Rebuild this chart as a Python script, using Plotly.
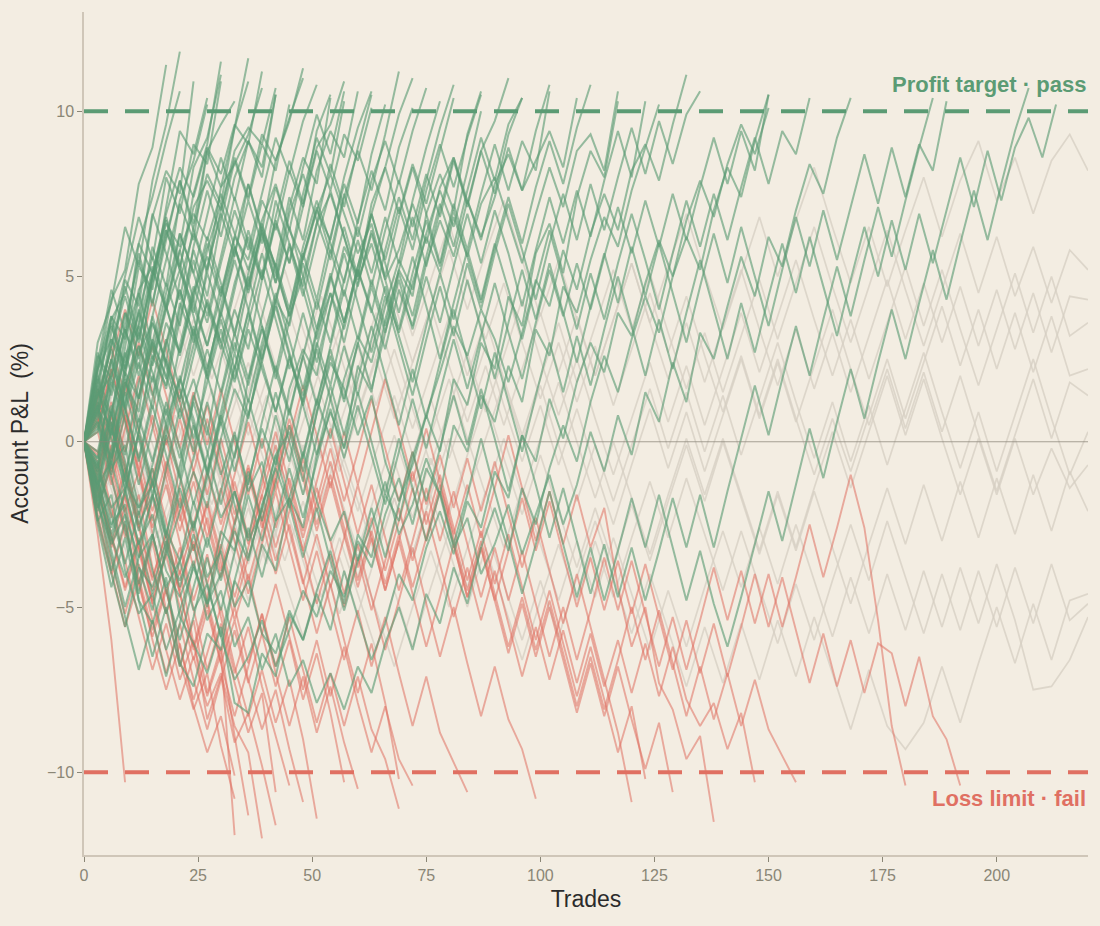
import plotly.graph_objects as go

STEP_PATH = 3      # trades between samples for pass / fail paths
STEP_TIMEOUT = 4   # trades between samples for timed-out paths
PROFIT_TARGET = 10
LOSS_LIMIT = -10
x_ticks = [0, 25, 50, 75, 100, 125, 150, 175, 200]
y_ticks = [-10, -5, 0, 5, 10]

pass_paths = [
    [0, 2.1, 4.3, 5.2, 7.8, 8.9, 11.4],
    [0, 1.5, 3.8, 3.1, 6.0, 7.4, 9.1, 10.6],
    [0, -0.8, 2.4, 4.9, 4.1, 6.8, 8.2, 7.5, 10.9],
    [0, 1.2, 0.4, 2.9, 5.3, 4.6, 7.1, 9.4, 8.7, 10.4],
    [0, 2.6, 1.9, 3.4, 2.2, 5.0, 6.6, 5.9, 8.3, 9.2, 11.1],
    [0, -1.4, 0.9, 2.7, 1.3, 3.8, 5.5, 7.2, 6.1, 8.8, 9.6, 10.3],
    [0, 0.7, 3.1, 2.0, 4.4, 6.9, 5.7, 4.3, 6.5, 8.1, 7.2, 9.5, 11.6],
    [0, -2.1, -0.6, 1.8, 0.9, 3.6, 2.4, 4.9, 6.3, 5.1, 7.7, 8.4, 9.3, 10.7],
    [0, 1.9, 0.5, -1.2, 1.4, 3.0, 4.8, 3.5, 5.9, 7.6, 6.2, 8.0, 9.1, 8.3, 10.5],
    [0, -1.0, -2.8, -1.5, 0.3, 2.6, 1.7, 4.0, 5.8, 4.4, 6.7, 8.5, 7.3, 9.0, 8.2, 10.2],
    [0, 2.4, 4.6, 3.3, 5.7, 4.2, 6.1, 7.9, 6.4, 5.2, 7.0, 8.6, 7.4, 9.3, 8.5, 9.8, 11.0],
    [0, 0.9, -0.7, 1.6, 3.3, 2.1, 0.8, 2.9, 4.7, 3.6, 5.4, 7.0, 5.8, 7.5, 9.2, 8.1, 9.7, 10.8],
    [0, -1.7, -3.9, -2.4, -4.6, -2.9, -0.8, 1.0, -0.3, 2.2, 3.9, 2.7, 4.8, 6.4, 5.0, 7.1, 8.6, 7.8, 10.4],
    [0, 1.3, 2.8, 1.1, 3.5, 5.2, 4.0, 6.3, 5.1, 3.8, 5.6, 7.4, 6.0, 4.9, 6.8, 8.5, 7.2, 8.9, 9.6, 10.9],
    [0, -0.5, 1.8, 0.6, -1.3, 0.4, 2.5, 1.2, 3.4, 2.0, 4.1, 5.9, 4.6, 6.5, 5.3, 7.4, 6.1, 8.2, 9.4, 8.6, 10.6],
    [0, 2.0, 0.8, 3.2, 4.5, 2.9, 1.6, 3.7, 5.5, 4.1, 2.8, 4.6, 6.4, 5.0, 7.3, 6.0, 4.7, 6.6, 8.4, 7.1, 8.9, 10.5],
    [0, -2.3, -4.0, -5.6, -3.8, -5.1, -3.2, -1.4, -2.7, -0.9, 0.8, -0.5, 1.9, 3.4, 2.1, 4.0, 5.7, 4.3, 6.2, 7.8, 6.6, 8.7, 10.2],
    [0, 1.1, 2.9, 4.4, 3.0, 5.1, 6.8, 5.4, 3.9, 5.8, 7.2, 5.9, 4.5, 6.3, 4.8, 6.9, 8.1, 6.7, 5.5, 7.4, 8.8, 7.6, 9.3, 11.2],
    [0, -0.9, 0.6, -1.5, -3.1, -1.7, 0.2, -1.1, 1.3, 2.8, 1.5, 3.3, 1.9, 3.8, 5.4, 4.0, 5.9, 7.3, 6.0, 4.8, 6.7, 8.2, 7.0, 8.9, 10.1],
    [0, 1.6, 0.2, 2.3, 3.9, 2.5, 4.2, 5.8, 4.3, 2.9, 4.7, 3.2, 5.1, 6.6, 5.2, 3.8, 5.6, 7.1, 5.7, 7.5, 6.2, 7.9, 9.1, 7.8, 9.4, 10.7],
    [0, -1.2, -2.6, -1.0, 0.7, -0.6, 1.2, -0.2, -1.9, -0.4, 1.4, 3.0, 1.7, 3.5, 2.1, 0.8, 2.6, 4.3, 3.0, 4.9, 6.5, 5.1, 6.8, 5.4, 7.3, 8.9, 10.3],
    [0, 0.8, 2.5, 1.0, -0.5, 1.3, 3.0, 4.6, 3.2, 1.9, 3.7, 2.2, 4.0, 5.7, 4.2, 6.0, 4.6, 3.1, 4.9, 6.5, 5.0, 6.9, 8.3, 6.9, 8.4, 7.2, 8.8, 10.4],
    [0, -1.5, 0.3, 1.9, 0.4, -1.2, -2.8, -1.3, 0.5, -0.9, 0.9, 2.7, 1.2, 3.0, 4.5, 3.1, 1.6, 3.4, 5.0, 3.6, 5.3, 6.9, 5.5, 7.1, 5.8, 7.6, 9.0, 7.7, 9.2, 10.5],
    [0, 2.2, 3.6, 2.0, 0.6, 2.4, 4.1, 2.7, 4.5, 6.2, 4.8, 3.3, 5.0, 3.5, 1.9, 3.7, 5.4, 4.0, 5.8, 4.4, 6.1, 4.7, 6.4, 7.9, 6.5, 8.1, 6.8, 8.5, 7.2, 8.8, 9.7, 11.0],
    [0, -0.6, -2.2, -3.7, -2.1, -3.9, -5.2, -3.6, -1.8, -3.2, -1.5, 0.2, -1.3, 0.6, 2.3, 0.9, 2.6, 1.1, 2.9, 4.6, 3.1, 4.9, 3.5, 5.2, 6.8, 5.3, 7.0, 8.6, 7.1, 8.8, 7.5, 9.3, 10.4],
    [0, 1.4, 2.9, 4.7, 3.2, 5.0, 6.7, 5.2, 3.8, 2.2, 3.9, 5.5, 4.0, 2.5, 4.3, 5.9, 4.4, 6.1, 7.6, 6.2, 4.7, 6.4, 5.0, 6.8, 8.3, 6.9, 5.4, 7.2, 5.8, 7.5, 9.0, 7.6, 9.1, 8.2, 10.6],
    [0, -1.8, -0.2, 1.5, 0.1, -1.6, 0.2, 1.8, 3.5, 2.0, 0.5, 2.2, 3.9, 2.4, 4.2, 2.7, 1.2, 2.9, 4.5, 3.0, 4.8, 6.3, 4.9, 3.4, 5.1, 6.7, 5.3, 7.0, 5.6, 4.2, 5.9, 7.4, 6.0, 7.7, 9.1, 7.8, 9.5, 10.8],
    [0, 0.5, -1.1, -2.7, -4.3, -2.8, -4.5, -6.0, -4.4, -2.9, -4.2, -2.5, -0.9, -2.4, -0.7, 1.0, -0.5, 1.2, 2.8, 1.3, 3.0, 1.6, 3.3, 4.9, 3.4, 5.0, 3.6, 5.3, 6.9, 5.4, 7.0, 5.7, 4.1, 5.8, 7.4, 6.0, 7.6, 6.2, 7.9, 9.4, 8.0, 10.3],
    [0, 1.7, 0.1, -1.4, 0.3, 2.0, 0.5, -1.0, -2.6, -1.1, 0.6, -0.9, 0.8, 2.4, 0.9, 2.6, 1.1, -0.4, 1.3, 2.9, 1.4, 3.1, 4.7, 3.2, 1.8, 3.5, 5.1, 3.7, 5.4, 4.0, 5.7, 7.2, 5.8, 4.3, 6.0, 7.5, 6.1, 7.8, 6.4, 8.0, 9.5, 8.1, 9.7, 8.4, 9.9, 10.6],
    [0, -1.3, 0.4, -1.1, -2.7, -1.2, -2.9, -4.4, -2.8, -4.3, -5.9, -4.2, -2.6, -4.1, -2.4, -0.8, -2.3, -0.6, 1.0, -0.5, 1.1, -0.4, -1.9, -0.3, 1.3, -0.2, 1.5, 3.1, 1.6, 3.2, 4.8, 3.3, 1.9, 3.6, 5.2, 3.8, 5.4, 4.0, 5.6, 7.1, 5.7, 7.3, 5.9, 7.5, 6.1, 7.7, 9.2, 7.8, 9.4, 8.2, 10.5],
    [0, 2.3, 3.8, 2.2, 3.9, 5.6, 4.1, 2.6, 4.3, 6.0, 4.5, 6.2, 7.8, 6.3, 4.8, 6.5, 5.0, 3.4, 5.1, 3.6, 5.3, 6.9, 5.4, 3.9, 5.6, 4.1, 2.5, 4.2, 5.8, 4.3, 6.0, 4.6, 3.1, 4.8, 6.4, 4.9, 3.4, 5.1, 3.7, 5.4, 6.9, 5.5, 4.0, 5.7, 7.3, 5.9, 7.5, 6.1, 7.7, 9.2, 7.8, 9.4, 8.7, 10.4],
    [0, -1.4, -3.0, -1.5, 0.2, -1.3, 0.4, 2.0, 0.5, -1.0, 0.7, 2.3, 0.8, 2.5, 4.1, 2.6, 1.1, 2.8, 1.3, -0.2, 1.5, 0.0, -1.6, 0.1, -1.4, -3.0, -1.5, -3.1, -1.6, 0.1, -1.5, -3.0, -4.6, -3.1, -1.5, -3.1, -4.7, -3.2, -4.8, -3.3, -1.7, -3.2, -1.6, -3.2, -4.8, -3.3, -4.9, -6.2, -4.7, -3.1, -1.5, -3.0, -1.3, 0.4, -1.1, 0.6, 2.2, 0.7, 2.4, 4.0, 2.5, 4.2, 5.8, 4.3, 6.0, 7.6, 6.1, 7.8, 9.4, 10.7],
    [0, 1.1, -0.5, 1.2, 2.9, 1.4, 3.1, 1.6, 0.1, 1.8, 3.4, 1.9, 3.6, 5.2, 3.7, 2.2, 3.9, 2.4, 4.1, 5.7, 4.2, 2.7, 4.4, 2.9, 1.4, 3.1, 4.7, 3.2, 4.9, 3.4, 1.9, 3.6, 5.2, 3.7, 5.4, 3.9, 2.4, 4.1, 5.7, 4.2, 5.9, 4.4, 6.0, 4.5, 3.0, 4.7, 6.3, 4.8, 6.5, 5.0, 3.5, 5.2, 6.8, 5.3, 7.0, 5.5, 7.1, 8.7, 7.2, 8.9, 7.4, 9.0, 8.2, 10.3],
    [0, -0.8, 0.9, -0.6, -2.2, -0.7, 1.0, -0.5, 1.2, -0.3, -1.9, -0.4, 1.3, -0.2, 1.5, 0.0, -1.6, 0.1, 1.7, 0.2, 1.9, 3.5, 2.0, 0.5, 2.2, 0.7, 2.4, 4.0, 2.5, 1.0, 2.7, 1.2, -0.3, 1.4, 3.0, 1.5, 3.2, 1.7, 3.4, 5.0, 3.5, 2.0, 3.7, 2.2, 3.9, 5.5, 4.0, 2.5, 4.2, 2.7, 4.4, 6.0, 4.5, 6.2, 4.7, 3.2, 4.9, 6.5, 5.0, 6.7, 5.2, 6.9, 5.4, 7.0, 8.6, 7.1, 8.8, 7.3, 8.9, 9.8, 8.6, 10.2],
    [0, 3.0, 4.2, 6.5, 5.3, 7.9, 9.6, 11.8],
    [0, -2.0, -0.4, 2.1, 3.6, 5.9, 4.7, 7.3, 8.5, 10.2],
    [0, 1.0, 3.3, 5.0, 6.8, 5.5, 8.0, 6.9, 9.0, 8.4, 10.9],
    [0, -1.2, -3.3, -5.0, -3.5, -1.6, -2.9, -0.8, 1.4, 0.2, 2.5, 4.0, 2.8, 4.9, 6.6, 5.4, 7.5, 9.2, 8.1, 10.3],
    [0, 0.4, 2.0, 3.9, 2.5, 4.8, 6.2, 7.9, 6.6, 8.8, 7.7, 9.5, 10.9],
    [0, -0.7, 1.1, -0.4, 1.8, 3.1, 1.9, 4.2, 3.0, 5.3, 6.9, 5.6, 7.8, 6.4, 8.5, 9.7, 11.3],
    [0, 1.8, 3.5, 2.2, 4.0, 2.7, 4.5, 6.3, 5.1, 6.9, 8.6, 7.3, 9.1, 8.0, 10.5],
    [0, -1.6, -3.5, -5.3, -6.9, -5.4, -7.1, -5.5, -3.7, -5.0, -3.2, -1.5, -2.9, -1.0, 0.8, -0.6, 1.3, 3.0, 1.7, 3.6, 5.2, 3.9, 5.8, 7.4, 6.1, 7.9, 9.5, 10.8],
    [0, 0.6, -1.0, 0.9, 2.4, 1.0, 2.9, 4.6, 3.2, 5.1, 3.8, 5.7, 7.3, 6.0, 7.7, 6.4, 8.3, 9.9, 8.7, 10.6],
    [0, 2.7, 1.4, 3.6, 5.5, 4.1, 6.4, 5.2, 7.5, 9.0, 11.5],
    [0, -0.3, 1.6, 3.4, 2.0, 3.8, 2.3, 0.9, 2.6, 4.3, 3.0, 4.8, 6.2, 4.9, 6.7, 5.4, 7.1, 8.8, 7.6, 9.3, 8.5, 10.1],
    [0, -2.5, -4.4, -2.9, -4.8, -6.5, -5.0, -6.8, -5.3, -3.5, -5.1, -3.3, -1.6, -3.0, -1.2, 0.5, -0.9, 0.9, 2.6, 1.2, 3.0, 4.7, 3.3, 5.1, 3.8, 5.6, 7.2, 5.9, 7.6, 9.2, 7.9, 9.6, 10.4],
    [0, 0.9, 2.5, 1.0, -0.6, 1.1, -0.4, -2.0, -0.5, 1.2, -0.3, -1.9, -3.5, -2.0, -0.4, -1.9, -3.5, -2.0, -3.6, -5.1, -3.6, -2.0, -3.5, -1.9, -0.3, -1.8, -0.2, 1.4, -0.1, 1.6, 0.1, -1.5, 0.2, -1.3, -2.9, -1.4, -3.0, -4.6, -3.1, -4.7, -3.2, -4.8, -3.3, -1.7, -3.2, -1.6, -3.2, -1.5, 0.1, 1.7, 0.2, 1.9, 3.5, 2.0, 3.7, 5.3, 3.8, 5.5, 7.1, 5.6, 7.3, 8.9, 10.4],
    [0, -1.9, -3.1, -2.2, -4.8, -5.5, -4.1, -6.7, -7.4, -5.8, -6.3, -4.2, -5.0, -3.1, -3.9, -1.7, -2.6, -0.4, 0.9, -0.2, 2.3, 1.5, 3.7, 5.2, 4.4, 6.9, 8.1, 7.0, 9.3, 10.6],
    [0, -0.7, -2.5, -1.9, -3.8, -4.4, -3.0, -5.3, -6.1, -7.0, -5.6, -7.9, -8.2, -6.4, -7.1, -5.2, -6.0, -4.5, -3.3, -4.9, -2.8, -3.5, -1.6, -2.4, -0.5, 0.8, -0.3, 1.9, 1.1, 3.0, 2.2, 4.4, 3.5, 5.7, 6.6, 5.1, 7.4, 8.8, 8.0, 10.3],
    [0, -2.4, -1.6, -3.9, -5.2, -4.6, -6.3, -5.1, -3.8, -4.9, -2.7, -3.3, -1.2, 0.4, -0.7, 1.6, 2.8, 2.0, 4.1, 5.9, 5.0, 7.2, 8.3, 9.9, 11.0],
    [0, 1.1, -0.8, -0.1, -2.0, -1.3, 0.6, 1.9, 0.7, -0.9, -2.3, -1.5, -3.0, -2.1, -0.4, 0.3, -1.2, 0.9, 2.4, 1.6, 0.2, 1.4, -0.6, -1.8, -0.7, 0.8, 2.1, 3.5, 2.6, 4.0, 3.1, 1.8, 3.3, 4.9, 4.1, 5.8, 4.6, 6.3, 7.5, 6.4, 8.2, 9.0, 7.9, 9.6, 11.1],
    [0, -0.5, 0.9, -1.2, -2.0, -0.8, -2.7, -3.6, -2.4, -4.1, -3.3, -5.0, -4.2, -5.8, -6.4, -5.1, -6.0, -4.6, -5.7, -3.9, -5.3, -6.6, -5.5, -4.0, -4.8, -3.2, -2.1, -3.4, -1.8, -2.6, -0.9, -1.7, 0.2, -0.6, 1.3, 0.1, 1.8, 3.0, 2.1, 3.9, 3.2, 4.8, 6.1, 5.0, 6.7, 7.9, 6.8, 8.4, 9.6, 8.7, 10.1],
    [0, 2.2, 3.1, 2.4, 4.6, 5.3, 4.0, 5.8, 6.9, 6.1, 7.5, 6.3, 5.2, 6.7, 7.8, 6.4, 5.5, 7.0, 8.1, 6.9, 5.7, 6.6, 4.9, 5.8, 7.2, 6.0, 7.7, 8.6, 7.3, 6.2, 7.4, 8.9, 7.6, 8.5, 9.4, 8.3, 10.4],
    [0, 1.4, 2.0, 3.9, 3.1, 5.0, 6.4, 5.3, 7.1, 7.9, 7.0, 8.8, 9.5, 9.0, 10.7],
    [0, -1.3, -0.6, -2.2, -3.5, -2.8, -4.4, -3.6, -5.1, -4.3, -5.9, -7.2, -6.5, -5.4, -6.8, -5.7, -4.5, -5.3, -3.9, -4.7, -3.0, -3.8, -2.2, -1.1, -2.5, -0.8, -1.6, 0.5, -0.3, 1.4, 0.6, 2.3, 1.2, 3.4, 2.6, 4.7, 3.9, 5.5, 6.8, 5.9, 7.6, 8.9, 10.2],
    [0, 0.6, -0.5, 1.7, 2.9, 1.8, 3.6, 2.7, 4.5, 5.6, 4.4, 6.2, 5.5, 7.3, 6.4, 8.2, 7.1, 9.4, 10.5],
    [0, -0.9, -2.0, -1.4, -3.1, -2.2, -3.9, -4.7, -3.6, -5.4, -4.5, -6.2, -5.3, -6.9, -5.8, -7.4, -6.6, -7.9, -7.0, -8.1, -6.8, -7.6, -6.1, -5.0, -6.3, -4.6, -5.5, -3.8, -4.9, -3.2, -2.0, -3.3, -1.4, -2.5, -0.8, 0.5, -0.6, 1.2, 2.6, 1.5, 3.1, 4.4, 3.3, 5.0, 6.2, 5.2, 7.0, 8.3, 7.4, 9.1, 10.5],
    [0, 1.8, 3.7, 4.5, 6.0, 5.1, 6.9, 8.3, 7.4, 8.9, 8.1, 9.6, 9.0, 11.2],
    [0, 1.0, 0.2, 2.1, 1.3, 3.0, 2.0, 0.7, 1.9, 0.4, -1.0, 0.3, -1.5, -0.6, -2.4, -1.7, -0.3, -1.8, -3.0, -2.1, -3.6, -2.5, -1.2, -2.8, -1.9, -0.5, -1.6, -3.2, -2.3, -4.0, -3.1, -1.9, -3.4, -2.2, -1.0, -2.5, -1.3, 0.3, -0.9, 0.8, -0.4, 1.5, 0.6, 2.4, 1.2, 3.3, 2.5, 4.1, 5.6, 4.4, 6.2, 5.3, 7.0, 8.4, 7.5, 9.2, 10.4],
    [0, -1.5, -2.9, -4.1, -3.0, -4.6, -3.4, -2.1, -0.9, -2.0, 0.1, 1.6, 0.7, 2.8, 4.3, 3.5, 5.6, 7.0, 6.1, 8.0, 9.5, 10.6],
    [0, 0.3, 1.9, 1.0, 2.7, 3.6, 2.4, 1.3, 2.9, 4.2, 3.0, 1.8, 3.4, 2.2, 0.9, 2.5, 1.4, 3.3, 4.5, 3.4, 5.2, 4.0, 2.8, 4.6, 3.5, 5.4, 6.7, 5.6, 7.3, 6.1, 7.8, 8.7, 7.6, 9.4, 10.8],
    [0, -1.1, 0.4, -0.8, -2.5, -1.6, -3.3, -4.2, -3.1, -4.9, -4.0, -2.7, -3.6, -1.9, -0.8, -2.0, -0.4, 1.3, 0.1, 1.9, 3.2, 2.4, 4.1, 5.5, 4.6, 6.3, 7.6, 6.5, 8.2, 10.0],
    [0, 1.5, 0.8, 2.6, 3.5, 2.3, 4.0, 5.2, 4.1, 2.9, 4.4, 5.9, 4.7, 6.4, 5.3, 3.8, 5.0, 6.6, 7.5, 6.2, 4.9, 6.0, 4.5, 3.3, 4.8, 6.2, 5.1, 6.8, 5.6, 7.2, 8.0, 6.7, 5.4, 6.9, 8.3, 7.1, 8.8, 9.3, 8.2, 10.6],
]

fail_paths = [
    [0, -2.8, -6.0, -10.3],
    [0, -1.4, -3.2, -2.0, -4.1, -5.7, -4.4, -6.6, -8.1, -7.0, -9.2, -10.8],
    [0, 0.8, -1.0, -2.9, -1.6, -3.8, -5.2, -3.9, -6.1, -7.7, -6.4, -11.9],
    [0, -2.0, -0.7, -2.6, -4.3, -3.0, -5.1, -6.8, -5.4, -7.6, -6.2, -8.9, -11.3],
    [0, 1.2, -0.3, -2.1, -0.9, -2.8, -4.6, -3.2, -5.0, -6.9, -5.5, -7.3, -8.8, -7.6, -10.6],
    [0, -1.1, -2.9, -4.5, -3.1, -4.9, -6.3, -7.8, -6.5, -8.0, -7.0, -8.6, -9.4, -12.0],
    [0, 0.5, 2.2, 0.7, -1.0, -2.6, -1.3, -3.1, -4.8, -3.4, -5.3, -7.0, -5.6, -7.4, -8.9, -10.4],
    [0, -0.9, 0.8, -0.8, -2.5, -4.1, -2.8, -4.6, -6.3, -4.9, -6.7, -5.4, -7.2, -8.7, -7.5, -9.3, -10.9],
    [0, -2.4, -4.0, -2.5, -4.3, -5.9, -4.5, -6.2, -7.8, -6.4, -5.0, -6.8, -8.3, -6.9, -8.5, -7.2, -9.0, -11.4],
    [0, 1.6, 0.0, 1.8, 0.3, -1.4, 0.1, -1.6, -3.3, -1.9, -3.7, -5.4, -4.0, -5.8, -7.4, -6.0, -7.8, -6.4, -8.2, -10.3],
    [0, -0.6, -2.3, -0.8, -2.6, -4.2, -2.7, -4.5, -3.0, -4.8, -6.4, -5.0, -6.7, -5.2, -7.0, -8.6, -7.1, -8.8, -7.4, -9.1, -10.5],
    [0, 0.9, 2.5, 4.0, 2.6, 4.3, 2.8, 1.2, -0.4, 1.1, -0.6, -2.2, -0.7, -2.4, -4.0, -2.5, -4.2, -5.8, -4.3, -6.0, -7.6, -6.1, -7.9, -10.2],
    [0, -1.9, -3.6, -5.2, -3.7, -5.4, -7.0, -5.5, -7.2, -8.7, -7.2, -5.7, -7.3, -5.8, -4.3, -5.9, -7.5, -6.0, -7.7, -6.2, -7.9, -9.4, -8.0, -9.6, -10.4],
    [0, 0.3, -1.3, 0.4, 2.0, 0.5, -1.1, -2.7, -1.2, -2.9, -1.4, -3.0, -4.6, -3.1, -1.5, -3.2, -4.8, -3.3, -5.0, -6.6, -5.1, -6.8, -5.3, -7.0, -8.6, -7.1, -8.8, -9.7, -10.6],
    [0, -1.0, 0.6, -1.0, -2.6, -1.1, 0.5, -1.1, -2.7, -4.3, -2.8, -1.2, -2.9, -1.3, 0.3, -1.3, -2.9, -1.4, -3.0, -4.6, -3.1, -4.7, -6.3, -4.8, -3.2, -4.9, -6.5, -5.0, -6.7, -8.3, -6.8, -8.4, -9.3, -10.8],
    [0, 1.3, 2.9, 1.4, 3.0, 1.5, -0.1, 1.6, 0.0, -1.6, 0.1, -1.5, -3.1, -1.6, -0.1, -1.7, -3.3, -1.8, -0.2, -1.8, -0.3, 1.3, -0.2, -1.8, -0.3, -1.9, -0.4, -2.0, -0.5, -2.1, -0.6, -2.2, -3.8, -2.3, -3.9, -5.5, -4.0, -5.6, -7.2, -8.8, -10.9],
    [0, -1.5, -3.1, -1.6, -3.2, -4.8, -3.3, -1.7, -3.3, -1.8, -3.4, -5.0, -3.5, -2.0, -3.6, -2.1, -0.5, -2.1, -0.6, -2.2, -3.8, -2.3, -3.9, -2.4, -0.9, -2.5, -1.0, -2.6, -4.2, -2.7, -4.3, -2.8, -4.4, -6.0, -4.5, -6.1, -7.7, -6.2, -7.8, -9.4, -8.0, -10.2],
    [0, 0.7, -0.9, 0.8, -0.8, -2.4, -0.9, 0.7, -0.9, -2.5, -4.1, -2.6, -4.2, -2.7, -1.1, -2.7, -4.3, -2.8, -4.4, -2.9, -1.3, -2.9, -4.5, -3.0, -4.6, -6.2, -4.7, -3.1, -4.7, -3.2, -4.8, -6.4, -4.9, -6.5, -5.0, -6.6, -8.2, -6.7, -8.3, -6.8, -8.4, -9.9, -8.5, -10.6],
    [0, -0.4, 1.2, -0.3, 1.3, 2.9, 1.4, -0.2, 1.5, -0.1, 1.6, 0.0, -1.6, 0.1, -1.5, 0.1, 1.7, 0.2, -1.4, 0.3, -1.3, 0.3, 1.9, 0.4, -1.2, 0.4, -1.2, -2.8, -1.3, -2.9, -1.4, 0.2, -1.4, -3.0, -1.5, -3.1, -1.6, -3.2, -2.0, -4.4, -6.2, -5.0, -7.3, -8.1, -9.6, -8.9, -11.5],
    [0, -1.2, -2.8, -4.4, -2.9, -4.5, -3.0, -4.6, -6.2, -4.7, -3.1, -4.7, -3.2, -1.6, -3.2, -1.7, -3.3, -4.9, -3.4, -5.0, -3.5, -5.1, -3.6, -2.0, -3.6, -2.1, -3.7, -5.3, -3.8, -5.4, -3.9, -5.5, -7.1, -5.6, -7.2, -5.7, -7.3, -5.8, -7.4, -6.0, -7.6, -6.1, -7.7, -6.2, -7.8, -8.6, -7.9, -9.3, -8.2, -10.3],
    [0, 1.0, -0.6, 1.1, -0.5, -2.1, -0.6, -2.2, -3.8, -2.3, -3.9, -2.4, -0.8, -2.4, -0.9, 0.7, -0.9, -2.5, -1.0, -2.6, -4.2, -2.7, -4.3, -2.8, -4.4, -2.9, -1.3, -2.9, -4.5, -3.0, -4.6, -6.2, -4.7, -6.3, -4.8, -6.4, -8.0, -6.5, -8.1, -6.6, -5.0, -6.6, -5.1, -6.7, -8.3, -6.8, -8.4, -7.0, -8.6, -7.2, -8.7, -9.5, -10.3],
    [0, -0.8, 0.8, -0.7, -2.3, -0.8, -2.4, -4.0, -2.5, -0.9, -2.5, -1.0, 0.6, -1.0, -2.6, -1.1, -2.7, -1.2, 0.4, -1.2, -2.8, -1.3, -2.9, -4.5, -3.0, -1.4, -3.0, -1.5, -3.1, -4.7, -3.2, -4.8, -3.3, -4.9, -6.5, -5.0, -6.6, -5.1, -3.5, -5.1, -3.6, -5.2, -6.8, -5.3, -6.9, -5.4, -3.8, -5.4, -3.9, -5.5, -4.0, -5.6, -4.1, -2.5, -4.1, -2.6, -1.0, -2.6, -5.4, -8.6, -10.4],
    [0, 0.6, 2.2, 0.7, -0.9, 0.8, -0.8, -2.4, -0.9, 0.7, -0.9, -2.5, -1.0, -2.6, -1.1, 0.5, -1.1, -2.7, -1.2, -2.8, -4.4, -2.9, -4.5, -3.0, -1.4, -3.0, -1.5, -3.1, -4.7, -3.2, -4.8, -3.3, -1.7, -3.3, -1.8, -3.4, -5.0, -3.5, -5.1, -3.6, -5.2, -3.7, -5.3, -6.9, -5.4, -7.0, -5.5, -7.1, -5.6, -4.0, -5.6, -4.1, -5.7, -7.3, -5.8, -7.4, -6.0, -7.6, -6.1, -6.4, -8.0, -6.5, -8.3, -9.0, -10.4],
    [0, -1.7, -0.1, -1.7, -3.3, -4.9, -3.4, -5.0, -6.6, -5.1, -6.7, -8.3, -6.8, -5.2, -6.8, -5.3, -6.9, -8.5, -7.0, -8.6, -7.1, -8.7, -9.6, -11.1],
    [0, -2.2, -3.9, -5.6, -4.2, -6.0, -7.5, -6.1, -8.0, -9.4, -8.3, -10.1],
    [0, -0.3, -2.0, -3.6, -5.3, -6.9, -5.5, -7.2, -6.0, -8.4, -7.1, -9.1, -8.2, -9.8, -11.6],
]

timeout_paths = [
    [0, 1.5, -0.4, 1.9, 3.2, 1.4, 3.0, 4.6, 2.8, 4.5, 6.1, 4.3, 2.6, 4.4, 2.7, 0.9, 2.6, 4.2, 2.4, 4.1, 5.8, 4.0, 5.7, 7.3, 5.5, 3.8, 5.5, 3.7, 2.0, 3.7, 5.4, 3.6, 5.3, 6.9, 5.1, 3.4, 5.1, 6.8, 5.0, 6.7, 8.3, 6.5, 4.8, 6.5, 4.7, 6.4, 8.0, 6.2, 7.9, 9.1, 7.3, 8.6, 6.9, 8.5, 9.3, 8.2],
    [0, -1.3, 0.5, -1.2, -2.9, -1.1, 0.6, -1.1, 0.7, 2.4, 0.6, -1.1, 0.6, 2.3, 0.5, 2.2, 3.9, 2.1, 0.4, 2.1, 3.8, 2.0, 3.7, 1.9, 0.2, 1.9, 3.6, 1.8, 3.5, 5.2, 3.4, 5.1, 3.3, 1.6, 3.3, 1.5, 3.2, 4.9, 3.1, 4.8, 6.5, 4.7, 3.0, 4.7, 6.4, 4.6, 2.9, 4.6, 6.3, 4.5, 6.2, 4.4, 5.9, 4.2, 5.8, 5.2],
    [0, 0.9, 2.6, 0.8, -0.9, 0.8, -0.9, -2.6, -0.8, 0.9, -0.8, 0.9, 2.6, 0.8, -0.9, 0.8, 2.5, 0.7, 2.4, 4.1, 2.3, 0.6, 2.3, 0.5, 2.2, 3.9, 2.1, 3.8, 2.0, 3.7, 5.4, 3.6, 1.9, 3.6, 1.8, 3.5, 5.2, 3.4, 1.7, 3.4, 1.6, 3.3, 1.5, 3.2, 4.9, 3.1, 4.8, 3.0, 4.7, 2.9, 4.6, 2.8, 4.5, 2.7, 4.4, 4.3],
    [0, -0.6, -2.3, -0.5, -2.2, -3.9, -2.1, -0.4, -2.1, -0.3, 1.4, -0.4, 1.3, -0.5, 1.2, 2.9, 1.1, 2.8, 1.0, -0.7, 1.0, 2.7, 0.9, 2.6, 4.3, 2.5, 0.8, 2.5, 0.7, -1.0, 0.7, 2.4, 0.6, 2.3, 0.5, 2.2, 3.9, 2.1, 3.8, 5.5, 3.7, 2.0, 3.7, 1.9, 3.6, 5.3, 3.5, 5.2, 3.4, 1.7, 3.4, 5.1, 3.3, 5.0, 3.2, 3.6],
    [0, 1.7, 0.0, 1.7, 3.4, 1.6, -0.1, 1.6, -0.2, 1.5, 3.2, 1.4, -0.3, 1.4, -0.4, -2.1, -0.3, 1.4, -0.4, 1.3, -0.5, 1.2, 2.9, 1.1, -0.6, 1.1, -0.7, 1.0, -0.8, -2.5, -0.7, 1.0, -0.8, 0.9, -0.9, 0.8, 2.5, 0.7, 2.4, 0.6, 2.3, 4.0, 2.2, 0.5, 2.2, 0.4, 2.1, 0.3, 2.0, 0.2, -1.5, 0.2, 1.9, 0.1, 1.8, 1.4],
    [0, -1.8, -0.1, -1.8, -0.1, 1.6, -0.2, -1.9, -0.2, -1.9, -3.6, -1.8, -0.1, -1.8, -0.1, -1.8, -3.5, -1.7, -3.4, -1.6, 0.1, -1.6, 0.1, 1.8, 0.0, 1.7, -0.1, -1.8, -0.1, -1.8, -0.1, 1.6, -0.2, 1.5, -0.3, 1.4, -0.4, 1.3, 3.0, 1.2, -0.5, 1.2, -0.6, 1.1, -0.7, 1.0, 2.7, 0.9, -0.8, 0.9, -0.9, 0.8, 2.5, 0.7, -1.0, 0.3],
    [0, 0.5, 2.2, 0.4, 2.1, 3.8, 2.0, 3.7, 1.9, 0.2, 1.9, 0.1, -1.6, 0.1, -1.6, -3.3, -1.5, 0.2, -1.5, 0.2, 1.9, 0.1, -1.6, 0.1, -1.6, 0.1, 1.8, 0.0, -1.7, 0.0, -1.7, -3.4, -1.6, 0.1, -1.6, 0.1, -1.6, -3.3, -1.5, -3.2, -1.4, 0.3, -1.4, 0.3, 2.0, 0.2, 1.9, 0.1, -1.6, 0.1, -1.6, 0.1, -1.6, -0.2, -1.4, -0.7],
    [0, -1.1, -2.8, -4.5, -2.7, -4.4, -2.6, -0.9, -2.6, -4.3, -2.5, -4.2, -5.9, -4.1, -2.4, -4.1, -2.3, -0.6, -2.3, -0.5, -2.2, -0.4, 1.3, -0.5, -2.2, -0.4, -2.1, -3.8, -2.0, -3.7, -1.9, -3.6, -1.8, -0.1, -1.8, 0.0, -1.7, -3.4, -1.6, -3.3, -1.5, -3.2, -4.9, -3.1, -1.4, -3.1, -1.3, -3.0, -1.2, -2.9, -1.1, -2.8, -1.0, -2.7, -0.9, -2.1],
    [0, 1.2, -0.5, 1.2, -0.5, -2.2, -0.4, -2.1, -3.8, -2.0, -3.7, -1.9, -3.6, -5.3, -3.5, -5.2, -3.4, -1.7, -3.4, -1.6, -3.3, -5.0, -3.2, -4.9, -6.6, -4.8, -3.1, -4.8, -3.0, -4.7, -2.9, -1.2, -2.9, -1.1, -2.8, -4.5, -2.7, -4.4, -6.1, -4.3, -6.0, -4.2, -2.5, -4.2, -2.4, -4.1, -5.8, -4.0, -5.7, -3.9, -5.6, -3.8, -5.5, -3.7, -5.4, -4.9],
    [0, -0.4, -2.1, -0.3, -2.0, -0.2, 1.5, -0.3, -2.0, -3.7, -1.9, -3.6, -1.8, -3.5, -5.2, -3.4, -5.1, -6.8, -5.0, -3.3, -5.0, -3.2, -1.5, -3.2, -1.4, -3.1, -4.8, -3.0, -4.7, -2.9, -4.6, -6.3, -4.5, -6.2, -4.4, -2.7, -4.4, -2.6, -4.3, -2.5, -4.2, -5.9, -4.1, -5.8, -4.0, -5.7, -3.9, -5.6, -3.8, -5.5, -3.7, -5.4, -7.5, -7.4, -6.6, -5.3],
    [0, -1.6, 0.1, -1.6, -3.3, -1.5, -3.2, -4.9, -3.1, -4.8, -3.0, -1.3, -3.0, -4.7, -2.9, -4.6, -6.3, -4.5, -6.2, -4.4, -2.7, -4.4, -2.6, -4.3, -6.0, -4.2, -5.9, -4.1, -2.4, -4.1, -5.8, -4.0, -5.7, -7.4, -5.6, -7.3, -5.5, -7.2, -5.4, -7.1, -5.3, -7.0, -8.7, -6.9, -8.6, -9.3, -8.5, -6.8, -8.5, -6.7, -5.0, -6.7, -4.9, -6.6, -4.8, -4.6],
    [0, 2.0, 0.3, 2.0, 0.3, 2.0, 3.7, 1.9, 3.6, 5.3, 3.5, 5.2, 3.4, 1.7, 3.4, 1.6, 3.3, 5.0, 3.2, 4.9, 6.6, 4.8, 3.1, 4.8, 3.0, 1.3, 3.0, 1.2, 2.9, 1.1, 2.8, 4.5, 2.7, 4.4, 2.6, 0.9, 2.6, 0.8, 2.5, 0.7, -1.0, 0.7, -0.9, 0.8, 2.5, 0.7, 2.4, 4.1, 2.3, 4.0, 2.2, 3.9, 2.1, 3.8, 2.0, 2.2],
]

# ---- styling ----
BG = "#f3ede2"
GREEN = "#5b9b74"
RED = "#e07062"
GREY_LINE = "#d6cfc3"
TICK_GREY = "#8a8676"
AXIS_LINE = "#cfc6b8"
FONT = "Liberation Sans, Arial, sans-serif"

fig = go.Figure()


def add_paths(paths, step, color, opacity, width):
    for vals in paths:
        xs = [i * step for i in range(len(vals))]
        fig.add_trace(go.Scatter(
            x=xs, y=vals, mode="lines",
            line=dict(color=color, width=width),
            opacity=opacity, hoverinfo="skip", showlegend=False,
        ))


add_paths(timeout_paths, STEP_TIMEOUT, GREY_LINE, 0.75, 1.7)
add_paths(fail_paths, STEP_PATH, RED, 0.55, 1.9)
add_paths(pass_paths, STEP_PATH, GREEN, 0.62, 2.0)

# zero line
fig.add_shape(type="line", xref="paper", x0=0, x1=1, yref="y", y0=0, y1=0,
              line=dict(color="rgba(140,134,122,0.75)", width=1.2), layer="above")
# target and limit
fig.add_shape(type="line", xref="paper", x0=0, x1=1, yref="y",
              y0=PROFIT_TARGET, y1=PROFIT_TARGET,
              line=dict(color=GREEN, width=4, dash="24px,17px"), layer="above")
fig.add_shape(type="line", xref="paper", x0=0, x1=1, yref="y",
              y0=LOSS_LIMIT, y1=LOSS_LIMIT,
              line=dict(color=RED, width=4, dash="24px,17px"), layer="above")

fig.add_annotation(text="<b>Profit target · pass</b>", xref="paper", x=1, xanchor="right",
                   yref="y", y=PROFIT_TARGET, yanchor="bottom", yshift=12,
                   showarrow=False, font=dict(size=22, color=GREEN, family=FONT))
fig.add_annotation(text="<b>Loss limit · fail</b>", xref="paper", x=1, xanchor="right",
                   yref="y", y=LOSS_LIMIT, yanchor="top", yshift=-12,
                   showarrow=False, font=dict(size=22, color=RED, family=FONT))

fig.update_layout(
    width=1100, height=926,
    paper_bgcolor=BG, plot_bgcolor=BG,
    margin=dict(l=84, r=12, t=12, b=71),
    font=dict(family=FONT, color=TICK_GREY),
    showlegend=False,
    xaxis=dict(
        range=[0, 220], tickvals=x_ticks, showgrid=False, zeroline=False,
        showline=True, linecolor=AXIS_LINE, linewidth=1.5,
        ticks="outside", ticklen=5, tickcolor=TICK_GREY, tickwidth=1,
        tickfont=dict(size=16, color=TICK_GREY, family=FONT),
        title=dict(text="Trades", font=dict(size=23, color="#2b2b2b", family=FONT), standoff=8),
    ),
    yaxis=dict(
        range=[-12.5, 13], tickvals=y_ticks, showgrid=False, zeroline=False,
        showline=True, linecolor=AXIS_LINE, linewidth=1.5,
        ticks="outside", ticklen=5, tickcolor=TICK_GREY, tickwidth=1,
        tickfont=dict(size=16, color=TICK_GREY, family=FONT),
        title=dict(text="Account P&L  (%)", font=dict(size=23, color="#2b2b2b", family=FONT), standoff=12),
    ),
)

fig.write_html("out.html")
